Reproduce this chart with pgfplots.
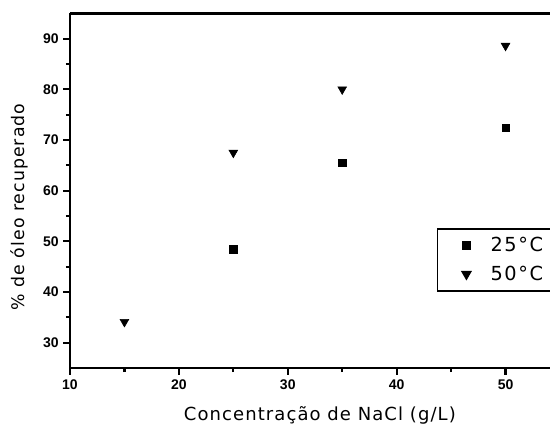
\documentclass[border=0pt]{standalone}
\usepackage{fontspec}
\setmainfont{Liberation Sans}
\newfontfamily\lblfont[LetterSpace=6]{DejaVu Sans}
\newfontfamily\legfont[LetterSpace=8]{DejaVu Sans}
\usepackage{pgfplots}
\pgfplotsset{compat=1.18}
\begin{document}
\begin{tikzpicture}
\begin{axis}[
  name=ax, at={(0,0)}, anchor=south west,
  scale only axis, width=367.5pt, height=266pt,
  xmin=10, xmax=55, ymin=25, ymax=95,
  axis x line*=box, axis y line*=left,
  xtick={10,20,30,40,50}, ytick={30,40,50,60,70,80,90},
  minor x tick num=1, minor y tick num=1,
  xtick pos=bottom, ytick pos=left,
  tick align=outside,
  major tick length=5pt, minor tick length=3pt,
  every tick/.style={black, line width=1.6pt},
  axis line style={line width=2.2pt},
  /pgf/number format/assume math mode=true,
  tick label style={font=\fontsize{10.5}{12}\selectfont\bfseries},
  xlabel={\lblfont Concentração de NaCl (g/L)},
  ylabel={\lblfont \% de óleo recuperado},
  xlabel style={font=\fontsize{13.5}{15}\selectfont, at={(axis description cs:0.51,0)}, anchor=base, yshift=-39pt},
  ylabel style={font=\fontsize{13}{15}\selectfont, at={(axis description cs:-0.104,0.454)}, anchor=center},
  legend style={at={(0.749,0.394)}, anchor=north west, draw=black, line width=1pt,
    font=\fontsize{14.5}{17}\selectfont\legfont, inner xsep=4pt, inner ysep=4.5pt,
    row sep=5pt},
  legend cell align=left,
  legend image code/.code={\path (0cm,0cm) (1.15cm,0cm); \draw[#1] plot coordinates {(0.6cm,0cm)};},
]
\addplot[only marks, mark=square*, mark size=2.8pt, black] coordinates {
  (25,48.4) (35,65.5) (50,72.4)};
\addlegendentry{25°C\hspace*{12pt}}
\addplot[only marks, mark=triangle*, mark options={rotate=180}, mark size=3.8pt, black] coordinates {
  (15,34.1) (25,67.5) (35,80.0) (50,88.6)};
\addlegendentry{50°C\hspace*{12pt}}
\end{axis}
\pgfresetboundingbox
\path (-52.5pt,-45.75pt) rectangle (360pt,276pt);
\end{tikzpicture}
\end{document}
